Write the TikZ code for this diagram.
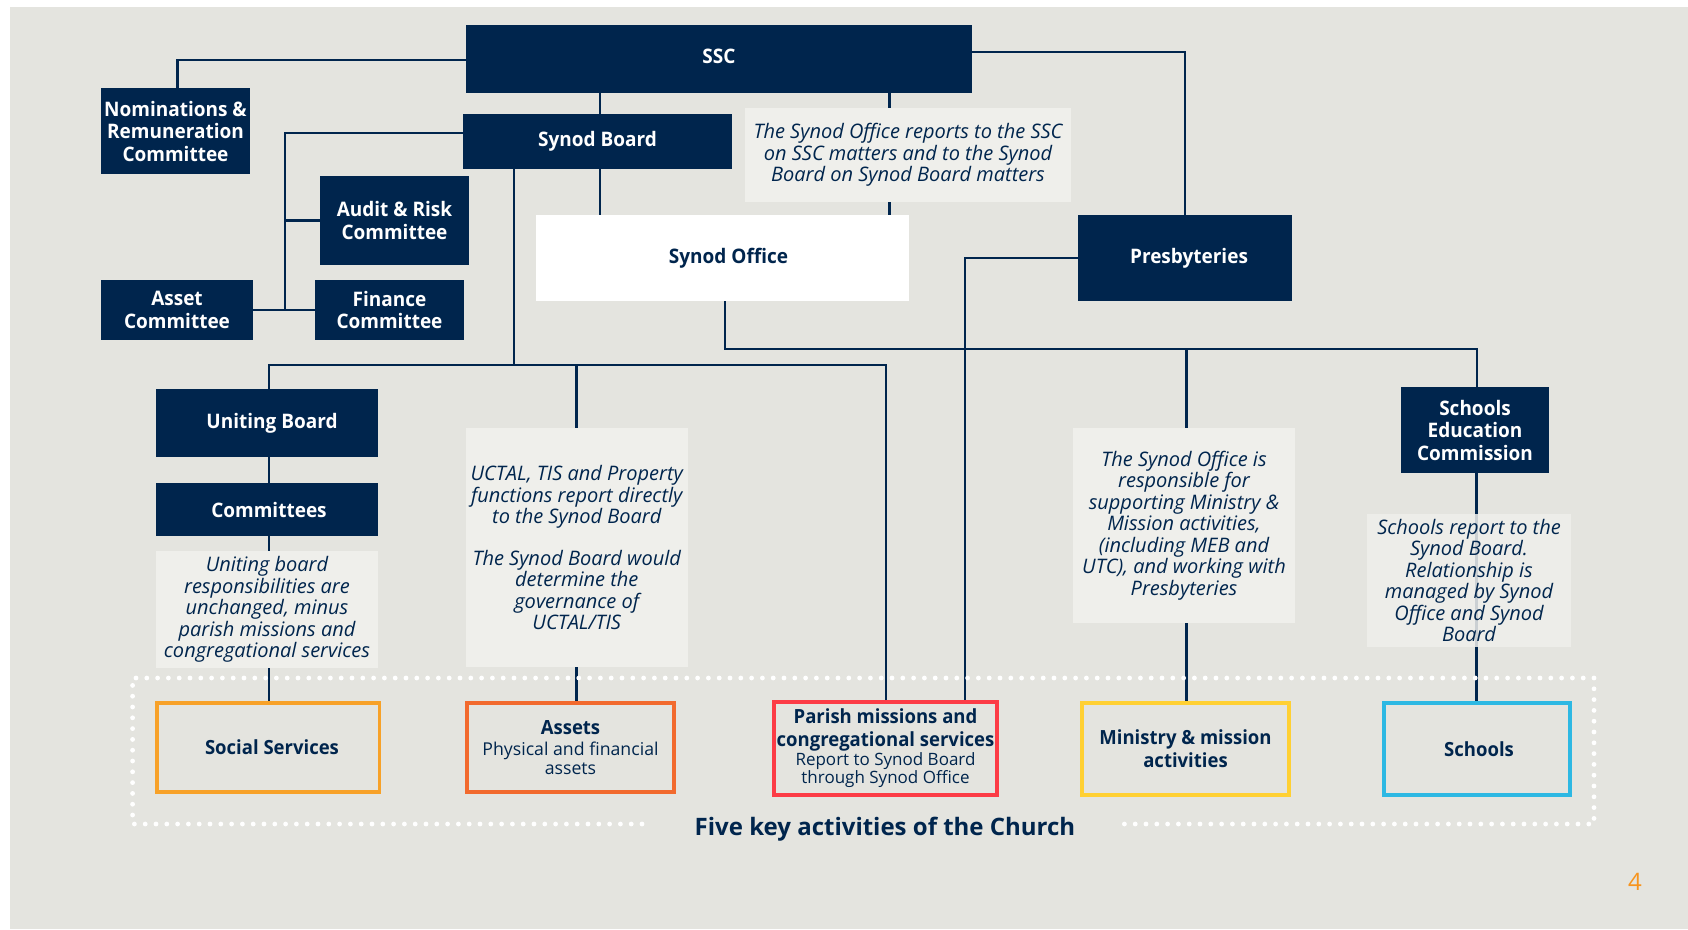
\documentclass[tikz,border=0pt]{standalone}
\usepackage{fontspec}
\setmainfont{Open Sans}
\newfontfamily\boxfont{Open Sans}[FakeStretch=0.95]
\definecolor{navy}{HTML}{00254D}
\definecolor{bgc}{HTML}{E4E4DF}
\definecolor{notec}{HTML}{EFEFEB}
\definecolor{corange}{HTML}{F7A128}
\definecolor{cred}{HTML}{F26A2E}
\definecolor{cpink}{HTML}{FC3C46}
\definecolor{cyellow}{HTML}{FFD033}
\definecolor{cblue}{HTML}{2DB8E3}
\definecolor{cpage}{HTML}{F7941D}
\pgfdeclarelayer{bglayer}
\pgfdeclarelayer{linelayer}
\pgfsetlayers{bglayer,linelayer,main}
\begin{document}
\begin{tikzpicture}[x=1pt,y=-1pt,
  every node/.style={inner sep=0pt, outer sep=0pt, align=center},
  navybox/.style={fill=navy, text=white, font=\boxfont\bfseries\fontsize{20}{22.5}\selectfont},
  whitebox/.style={fill=white, text=navy, font=\boxfont\bfseries\fontsize{20}{22.5}\selectfont},
  notebox/.style={fill=notec, text=navy, font=\itshape\fontsize{20}{21.5}\selectfont},
  actbox/.style={draw=#1, line width=3.5pt, text=navy, font=\boxfont\bfseries\fontsize{19.5}{23}\selectfont},
  conn/.style={draw=navy, line width=2.9pt},
  dots/.style={draw=white, line width=4.8pt, dash pattern=on 0pt off 10.8pt, line cap=round}
]
\useasboundingbox (0,0) rectangle (1688,929);
\begin{pgfonlayer}{bglayer}
\fill[bgc] (10,7) rectangle (1688,929);
\end{pgfonlayer}

% governance boxes
\node[navybox, minimum width=506pt, minimum height=68pt] (ssc) at (719,59) {\raisebox{6pt}{SSC}};
\node[navybox, minimum width=269pt, minimum height=55pt] (sb) at (597.5,141.5) {Synod Board};
\node[navybox, minimum width=149pt, minimum height=86pt] (nom) at (175.5,131) {Nominations \&\\Remuneration\\Committee};
\node[navybox, minimum width=149pt, minimum height=89pt] (audit) at (394.5,220.5) {Audit \& Risk\\Committee};
\node[navybox, minimum width=152pt, minimum height=60pt] (asset) at (177,310) {Asset\\Committee};
\node[navybox, minimum width=149pt, minimum height=60pt] (fin) at (389.5,310) {Finance\\Committee};
\node[whitebox, minimum width=373pt, minimum height=86pt] (so) at (722.5,258) {\hspace*{12pt}Synod Office};
\node[navybox, minimum width=214pt, minimum height=86pt] (presb) at (1185,258) {\hspace*{8pt}Presbyteries};
\node[notebox, minimum width=326pt, minimum height=94pt] (ssnote) at (908,155) {The Synod Office reports to the SSC\\on SSC matters and to the Synod\\Board on Synod Board matters};

\node[navybox, minimum width=222pt, minimum height=68pt] (ub) at (267,423) {\hspace*{10pt}Uniting Board};
\node[navybox, minimum width=222pt, minimum height=53pt] (comm) at (267,509.5) {\hspace*{4pt}Committees};
\node[notebox, minimum width=222pt, minimum height=117pt] (ubnote) at (267,609.5) {Uniting board\\responsibilities are\\unchanged, minus\\parish missions and\\congregational services};
\node[notebox, minimum width=221.5pt, minimum height=239pt] (uctal) at (576.75,547.5) {UCTAL, TIS and Property\\functions report directly\\to the Synod Board\\[20pt]The Synod Board would\\determine the\\governance of\\UCTAL/TIS};
\node[notebox, minimum width=222pt, minimum height=195pt] (mnote) at (1184,525.5) {The Synod Office is\\responsible for\\supporting Ministry \&\\Mission activities,\\(including MEB and\\UTC), and working with\\Presbyteries};
\node[navybox, minimum width=148pt, minimum height=86pt] (sec) at (1475,430) {Schools\\Education\\Commission};
\node[notebox, minimum width=204pt, minimum height=133pt, fill opacity=0.85, text opacity=1] (snote) at (1469,580.5) {Schools report to the\\Synod Board.\\Relationship is\\managed by Synod\\Office and Synod\\Board};

% activity boxes
\node[actbox=corange, minimum width=222.5pt, minimum height=89pt] (social) at (268,747.5) {\hspace*{8pt}Social Services};
\node[actbox=cred, minimum width=207pt, minimum height=89pt] (assets) at (570.5,747.5) {Assets\\[-2pt]{\normalfont\fontsize{17.7}{18}\selectfont Physical and financial}\\[-4pt]{\normalfont\fontsize{17.7}{18}\selectfont assets}};
\node[actbox=cpink, minimum width=223pt, minimum height=93pt] (parish) at (885.5,748.5) {Parish missions and\\congregational services\\[-4pt]{\normalfont\fontsize{17}{17}\selectfont Report to Synod Board}\\[-5pt]{\normalfont\fontsize{17}{17}\selectfont through Synod Office}};
\node[actbox=cyellow, minimum width=207pt, minimum height=92pt] (ministry) at (1185.5,749) {Ministry \& mission\\activities};
\node[actbox=cblue, minimum width=186pt, minimum height=92pt] (schools) at (1477,749) {\hspace*{4pt}Schools};

\node[text=navy, font=\bfseries\fontsize{24}{28}\selectfont] (title) at (885,829) {Five key activities of the Church};
\node[text=cpage, font=\fontsize{24}{28}\selectfont] (page) at (1635,882) {4};

\draw[dots] (642,824) -| (132.6,678) -| (1594,824) -- (1120,824);

% connectors
\begin{pgfonlayer}{linelayer}
\coordinate (cb) at (285,0);
\coordinate (cn) at (889.5,0);
\coordinate (cp) at (965,0);
\coordinate (sbx) at (514,0);
\coordinate (px) at (886,0);
\coordinate (hy) at (0,365);
\coordinate (h2) at (0,349);
\draw[conn] ([yshift=-1pt]ssc.west) -| ([xshift=2pt]nom.north);
\draw[conn] ([xshift=2.5pt]sb.north) -- ([xshift=2.5pt]sb.north |- ssc.south);
\draw[conn] ([yshift=8.5pt]sb.west) -| (cb |- asset.east);
\draw[conn] (asset.east) -- (fin.west);
\draw[conn] (cb |- audit.west) -- (audit.west);
\draw[conn] (cn |- ssc.south) -- (cn |- ssnote.north);
\draw[conn] (cn |- ssnote.south) -- (cn |- so.north);
\draw[conn] ([xshift=2.5pt]sb.south) -- ([xshift=2.5pt]sb.south |- so.north);
\draw[conn] ([yshift=7pt]ssc.east) -| (presb.north);
\draw[conn] (presb.west) -| (cp |- parish.north);
\draw[conn] (sbx |- sb.south) -- (sbx |- hy);
\draw[conn] ([xshift=2pt]ub.north) |- (px |- hy) -- (px |- parish.north);
\draw[conn] (uctal.north) -- (uctal.north |- hy);
\draw[conn] (uctal.south) -- (uctal.south |- assets.north);
\draw[conn] ([xshift=2pt]ub.south) -- ([xshift=2pt]comm.north);
\draw[conn] ([xshift=2pt]comm.south) -- ([xshift=2pt]ubnote.north);
\draw[conn] ([xshift=2pt]ubnote.south) -- ([xshift=2pt]ubnote.south |- social.north);
\draw[conn] ([xshift=2.5pt]so.south) -- ([xshift=2.5pt]so.south |- h2) -| ([xshift=2pt]sec.north);
\draw[conn] ([xshift=2.5pt]mnote.north |- h2) -- ([xshift=2.5pt]mnote.north);
\draw[conn] ([xshift=2.5pt]mnote.south) -- ([xshift=2.5pt]mnote.south |- ministry.north);
\draw[conn] ([xshift=1.5pt]sec.south) -- ([xshift=1.5pt]sec.south |- schools.north);
\end{pgfonlayer}
\end{tikzpicture}
\end{document}
